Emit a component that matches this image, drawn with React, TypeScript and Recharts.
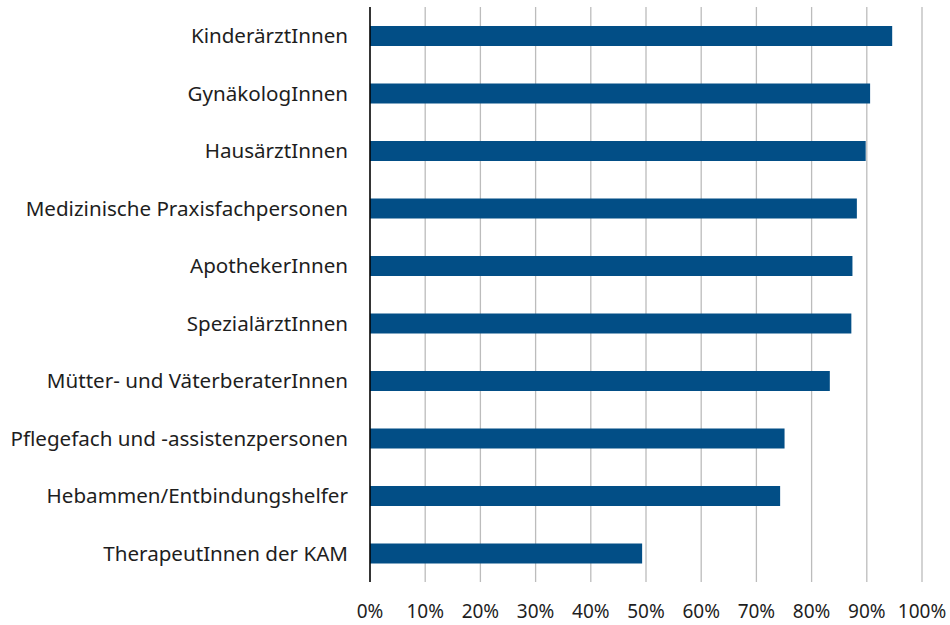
import { BarChart, Bar, XAxis, YAxis, CartesianGrid } from 'recharts';

const categories = [
  'KinderärztInnen',
  'GynäkologInnen',
  'HausärztInnen',
  'Medizinische Praxisfachpersonen',
  'ApothekerInnen',
  'SpezialärztInnen',
  'Mütter- und VäterberaterInnen',
  'Pflegefach und -assistenzpersonen',
  'Hebammen/Entbindungshelfer',
  'TherapeutInnen der KAM',
];

const shares = [94.6, 90.6, 89.8, 88.2, 87.4, 87.2, 83.3, 75.1, 74.3, 49.3];

const xTicks = [0, 10, 20, 30, 40, 50, 60, 70, 80, 90, 100];

const data = categories.map((name, i) => ({ name, value: shares[i] }));

const font = '"Noto Sans", sans-serif';

export default function App() {
  return (
    <div style={{ position: 'absolute', left: 0, top: 0, background: '#fff' }}>
      <BarChart
        width={950}
        height={625}
        data={data}
        layout="vertical"
        margin={{ top: 7, right: 28, bottom: 13, left: 0 }}
        barCategoryGap="33%"
      >
        <CartesianGrid horizontal={false} stroke="#bcbcbc" strokeWidth={1.3} />
        <XAxis
          type="number"
          domain={[0, 100]}
          ticks={xTicks}
          tickFormatter={(v: number) => `${v}%`}
          axisLine={false}
          tickLine={false}
          tickSize={0}
          tickMargin={23}
          height={30}
          interval={0}
          tick={{ fill: '#1e1e1e', fontSize: 19, fontFamily: font }}
        />
        <YAxis
          type="category"
          dataKey="name"
          width={370}
          axisLine={{ stroke: '#000', strokeWidth: 1.5 }}
          tickLine={false}
          tickSize={0}
          tickMargin={22}
          interval={0}
          tick={{ fill: '#1e1e1e', fontSize: 20.6, fontFamily: font }}
        />
        <Bar dataKey="value" fill="#024e86" isAnimationActive={false} />
      </BarChart>
    </div>
  );
}
